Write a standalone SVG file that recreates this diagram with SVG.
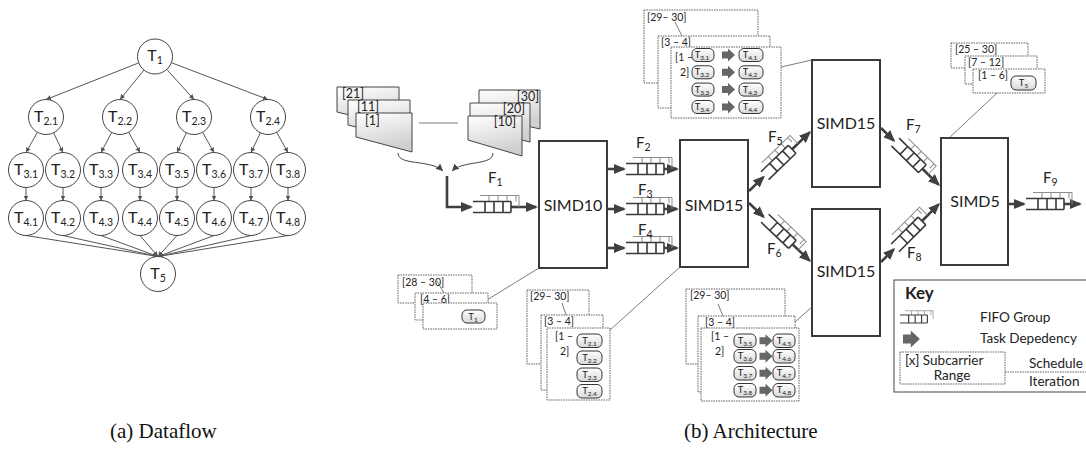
<svg xmlns="http://www.w3.org/2000/svg" xmlns:xlink="http://www.w3.org/1999/xlink" width="1086" height="452" viewBox="0 0 1086 452">
<style>
.c{fill:#fff;stroke:#444;stroke-width:1}
.t{font-family:Lato,"Open Sans","Noto Sans",sans-serif;fill:#222}
.tl{font-size:16px;text-anchor:middle}
.sb{font-size:10.5px}
.te{stroke:#555;stroke-width:1;fill:none;marker-end:url(#ah)}
.simd{fill:#fff;stroke:#3a3a3a;stroke-width:2}
.st{font-size:16px;text-anchor:middle}
.arr{stroke:#404040;stroke-width:2.6;fill:none;marker-end:url(#bh)}
.thin{stroke:#444;stroke-width:1;fill:none;marker-end:url(#mh)}
.dot{fill:#fff;stroke:#555;stroke-width:0.9;stroke-dasharray:1.6 0.9}
.sl{font-size:10.5px}
.tb{fill:url(#gb);stroke:#333;stroke-width:1}
.tbt{font-size:9.5px;text-anchor:middle}
.tbs{font-size:6.5px}
.lead{stroke:#444;stroke-width:0.7;fill:none}
.card{fill:url(#gc);stroke:#444;stroke-width:1}
.cl{font-size:12.5px}
.fl{font-size:15px}
.cap{font-family:"Liberation Serif","Times New Roman",serif;font-size:21px;fill:#111}
.kt{font-size:13.5px}
</style>
<defs>
<linearGradient id="gb" x1="0" y1="0" x2="0" y2="1"><stop offset="0" stop-color="#ffffff"/><stop offset="1" stop-color="#d9d9d9"/></linearGradient>
<linearGradient id="gc" x1="0" y1="0" x2="0.3" y2="1"><stop offset="0" stop-color="#ffffff"/><stop offset="1" stop-color="#cfcfcf"/></linearGradient>
<marker id="ah" viewBox="0 0 6 6" refX="6" refY="3" markerWidth="5" markerHeight="5" orient="auto" markerUnits="userSpaceOnUse"><path d="M0,0 L6,3 L0,6 z" fill="#555"/></marker>
<marker id="mh" viewBox="0 0 8 8" refX="8" refY="4" markerWidth="7" markerHeight="7" orient="auto" markerUnits="userSpaceOnUse"><path d="M0,0 L8,4 L0,8 z" fill="#444"/></marker>
<marker id="bh" viewBox="0 0 12 10" refX="10" refY="5" markerWidth="12" markerHeight="10" orient="auto" markerUnits="userSpaceOnUse"><path d="M0,0 L12,5 L0,10 z" fill="#404040"/></marker>
<g id="fifo">
<path d="M7,-11.5 H46 V0 M16,-11.5 V-5.5 M25,-11.5 V-5.5 M34,-11.5 V-5.5 M43,-11.5 V-5.5" stroke="#8c8c8c" stroke-width="1" fill="none"/>
<path d="M0,-5.5 H38 M0,5.5 H38 M12,-5.5 V5.5 M21,-5.5 V5.5 M30,-5.5 V5.5 M38,-5.5 V5.5" stroke="#3a3a3a" stroke-width="1.6" fill="none"/>
</g>
<path id="ba" d="M0,-3.5 H6 V-6.5 L13,0 L6,6.5 V3.5 H0 Z" fill="#666"/>
</defs>

<!-- (a) Dataflow tree -->
<g id="tree-edges">
<path class="te" d="M138.7,62.9 L46,99.5"/>
<path class="te" d="M143.9,70.1 L120,99.5"/>
<path class="te" d="M166.8,69.5 L194,99.5"/>
<path class="te" d="M171.4,62.7 L268,99.5"/>
<path class="te" d="M37.4,132.3 L26,152.5"/>
<path class="te" d="M53.6,132.8 L63,152.5"/>
<path class="te" d="M111.7,132.4 L101,152.5"/>
<path class="te" d="M128.6,132.3 L140,152.5"/>
<path class="te" d="M186.4,132.8 L177,152.5"/>
<path class="te" d="M202.6,132.3 L214,152.5"/>
<path class="te" d="M260.4,132.8 L251,152.5"/>
<path class="te" d="M276.6,132.3 L288,152.5"/>
<path class="te" d="M26,187.5 V200.5"/>
<path class="te" d="M63,187.5 V200.5"/>
<path class="te" d="M101,187.5 V200.5"/>
<path class="te" d="M140,187.5 V200.5"/>
<path class="te" d="M177,187.5 V200.5"/>
<path class="te" d="M214,187.5 V200.5"/>
<path class="te" d="M251,187.5 V200.5"/>
<path class="te" d="M288,187.5 V200.5"/>
<path class="te" d="M26,235.5 L158,256.5"/>
<path class="te" d="M63,235.5 L158,256.5"/>
<path class="te" d="M101,235.5 L158,256.5"/>
<path class="te" d="M140,235.5 L158,256.5"/>
<path class="te" d="M177,235.5 L158,256.5"/>
<path class="te" d="M214,235.5 L158,256.5"/>
<path class="te" d="M251,235.5 L158,256.5"/>
<path class="te" d="M288,235.5 L158,256.5"/>
</g>
<g id="T1"><circle class="c" cx="155" cy="56.5" r="17.5"/><text class="t tl" x="155" y="61">T<tspan class="sb" dy="3">1</tspan></text></g>
<g id="T2.1"><circle class="c" cx="46" cy="117" r="17.5"/><text class="t tl" x="46" y="121.5">T<tspan class="sb" dy="3">2.1</tspan></text></g>
<g id="T2.2"><circle class="c" cx="120" cy="117" r="17.5"/><text class="t tl" x="120" y="121.5">T<tspan class="sb" dy="3">2.2</tspan></text></g>
<g id="T2.3"><circle class="c" cx="194" cy="117" r="17.5"/><text class="t tl" x="194" y="121.5">T<tspan class="sb" dy="3">2.3</tspan></text></g>
<g id="T2.4"><circle class="c" cx="268" cy="117" r="17.5"/><text class="t tl" x="268" y="121.5">T<tspan class="sb" dy="3">2.4</tspan></text></g>
<g id="T3.1"><circle class="c" cx="26" cy="170" r="17.5"/><text class="t tl" x="26" y="174.5">T<tspan class="sb" dy="3">3.1</tspan></text></g>
<g id="T3.2"><circle class="c" cx="63" cy="170" r="17.5"/><text class="t tl" x="63" y="174.5">T<tspan class="sb" dy="3">3.2</tspan></text></g>
<g id="T3.3"><circle class="c" cx="101" cy="170" r="17.5"/><text class="t tl" x="101" y="174.5">T<tspan class="sb" dy="3">3.3</tspan></text></g>
<g id="T3.4"><circle class="c" cx="140" cy="170" r="17.5"/><text class="t tl" x="140" y="174.5">T<tspan class="sb" dy="3">3.4</tspan></text></g>
<g id="T3.5"><circle class="c" cx="177" cy="170" r="17.5"/><text class="t tl" x="177" y="174.5">T<tspan class="sb" dy="3">3.5</tspan></text></g>
<g id="T3.6"><circle class="c" cx="214" cy="170" r="17.5"/><text class="t tl" x="214" y="174.5">T<tspan class="sb" dy="3">3.6</tspan></text></g>
<g id="T3.7"><circle class="c" cx="251" cy="170" r="17.5"/><text class="t tl" x="251" y="174.5">T<tspan class="sb" dy="3">3.7</tspan></text></g>
<g id="T3.8"><circle class="c" cx="288" cy="170" r="17.5"/><text class="t tl" x="288" y="174.5">T<tspan class="sb" dy="3">3.8</tspan></text></g>
<g id="T4.1"><circle class="c" cx="26" cy="218" r="17.5"/><text class="t tl" x="26" y="222.5">T<tspan class="sb" dy="3">4.1</tspan></text></g>
<g id="T4.2"><circle class="c" cx="63" cy="218" r="17.5"/><text class="t tl" x="63" y="222.5">T<tspan class="sb" dy="3">4.2</tspan></text></g>
<g id="T4.3"><circle class="c" cx="101" cy="218" r="17.5"/><text class="t tl" x="101" y="222.5">T<tspan class="sb" dy="3">4.3</tspan></text></g>
<g id="T4.4"><circle class="c" cx="140" cy="218" r="17.5"/><text class="t tl" x="140" y="222.5">T<tspan class="sb" dy="3">4.4</tspan></text></g>
<g id="T4.5"><circle class="c" cx="177" cy="218" r="17.5"/><text class="t tl" x="177" y="222.5">T<tspan class="sb" dy="3">4.5</tspan></text></g>
<g id="T4.6"><circle class="c" cx="214" cy="218" r="17.5"/><text class="t tl" x="214" y="222.5">T<tspan class="sb" dy="3">4.6</tspan></text></g>
<g id="T4.7"><circle class="c" cx="251" cy="218" r="17.5"/><text class="t tl" x="251" y="222.5">T<tspan class="sb" dy="3">4.7</tspan></text></g>
<g id="T4.8"><circle class="c" cx="288" cy="218" r="17.5"/><text class="t tl" x="288" y="222.5">T<tspan class="sb" dy="3">4.8</tspan></text></g>
<g id="T5"><circle class="c" cx="158" cy="274" r="17.5"/><text class="t tl" x="158" y="278.5">T<tspan class="sb" dy="3">5</tspan></text></g>

<!-- (b) Architecture: input cards -->
<g id="inputs-left">
<path class="card" d="M337,87 h62 v40 L337,112 z"/>
<text class="t cl" x="342" y="98">[21]</text>
<path class="card" d="M348,100 h62 v40 L348,125 z"/>
<text class="t cl" x="357" y="111">[11]</text>
<path class="card" d="M356,113 h56 v39 L356,137 z"/>
<text class="t cl" x="365" y="125">[1]</text>
</g>
<g id="inputs-right">
<path class="card" d="M479,90 h61 v39 L479,115 z"/>
<text class="t cl" x="539" y="101" text-anchor="end">[30]</text>
<path class="card" d="M470,103 h60 v39 L470,128 z"/>
<text class="t cl" x="525" y="113" text-anchor="end">[20]</text>
<path class="card" d="M468,116 h54 v40 L468,140 z"/>
<text class="t cl" x="516" y="126" text-anchor="end">[10]</text>
</g>

<!-- SIMD nodes -->
<g id="SIMD10"><rect class="simd" x="539" y="141" width="68" height="127"/><text class="t st" x="573" y="211">SIMD10</text></g>
<g id="SIMD15-a"><rect class="simd" x="680" y="140" width="68" height="127"/><text class="t st" x="714" y="211">SIMD15</text></g>
<g id="SIMD15-b"><rect class="simd" x="812" y="60" width="68" height="127"/><text class="t st" x="846" y="129">SIMD15</text></g>
<g id="SIMD15-c"><rect class="simd" x="812" y="209" width="68" height="127"/><text class="t st" x="846" y="277">SIMD15</text></g>
<g id="SIMD5"><rect class="simd" x="941" y="138" width="67" height="127"/><text class="t st" x="975" y="207">SIMD5</text></g>

<!-- connectors -->
<g id="connectors">
<path class="lead" d="M419,123 H458"/>
<path class="thin" d="M398,153 C398,166 430,159 443,171"/>
<path class="thin" d="M493,153 C493,166 463,160 452,171"/>
<path class="arr" d="M447,176 V207 H471"/>
<path class="arr" d="M511,207 H536"/>
<path class="arr" d="M608,169 H624"/>
<path class="arr" d="M664,169 H677"/>
<path class="arr" d="M608,209 H624"/>
<path class="arr" d="M664,209 H677"/>
<path class="arr" d="M608,248 H624"/>
<path class="arr" d="M664,248 H677"/>
<path class="arr" d="M749,191 L763.4,177.1"/>
<path class="arr" d="M792.1,149.3 L809.6,132.4"/>
<path class="arr" d="M749,203 L763.5,216.8"/>
<path class="arr" d="M792.5,244.4 L809.6,260.6"/>
<path class="arr" d="M881,128 L893.8,140.6"/>
<path class="arr" d="M922.4,168.7 L938.6,184.6"/>
<path class="arr" d="M881,262 L893.7,249.3"/>
<path class="arr" d="M922,221 L938.6,204.4"/>
<path class="arr" d="M1009,204 H1024"/>
<path class="arr" d="M1064,204 H1080"/>
<path class="lead" d="M781,67 L812,60"/>
<path class="lead" d="M482,303 L539,268"/>
<path class="lead" d="M610,330 L680,267"/>
<path class="lead" d="M788,328 L812,307"/>
<path class="lead" d="M997,93 L949,138"/>
</g>

<!-- FIFO groups -->
<g id="F1"><use xlink:href="#fifo" href="#fifo" transform="translate(473,207)"/><text class="t fl" x="488" y="183">F<tspan class="sb" dy="3">1</tspan></text></g>
<g id="F2"><use xlink:href="#fifo" href="#fifo" transform="translate(626,169)"/><text class="t fl" x="636" y="148">F<tspan class="sb" dy="3">2</tspan></text></g>
<g id="F3"><use xlink:href="#fifo" href="#fifo" transform="translate(626,209)"/><text class="t fl" x="638" y="195">F<tspan class="sb" dy="3">3</tspan></text></g>
<g id="F4"><use xlink:href="#fifo" href="#fifo" transform="translate(626,248)"/><text class="t fl" x="638" y="235">F<tspan class="sb" dy="3">4</tspan></text></g>
<g id="F5"><use xlink:href="#fifo" href="#fifo" transform="translate(764.8,175.7) rotate(-44)"/><text class="t fl" x="768" y="142">F<tspan class="sb" dy="3">5</tspan></text></g>
<g id="F6"><use xlink:href="#fifo" href="#fifo" transform="translate(764.9,218.2) rotate(43.6)"/><text class="t fl" x="767" y="254">F<tspan class="sb" dy="3">6</tspan></text></g>
<g id="F7"><use xlink:href="#fifo" href="#fifo" transform="translate(895.3,142) rotate(44.5)"/><text class="t fl" x="906" y="130">F<tspan class="sb" dy="3">7</tspan></text></g>
<g id="F8"><use xlink:href="#fifo" href="#fifo" transform="translate(895.1,247.9) rotate(-45)"/><text class="t fl" x="907" y="258">F<tspan class="sb" dy="3">8</tspan></text></g>
<g id="F9"><use xlink:href="#fifo" href="#fifo" transform="translate(1026,204)"/><text class="t fl" x="1043" y="183">F<tspan class="sb" dy="3">9</tspan></text></g>

<!-- schedule stacks -->
<g id="stack-T3T4">
<rect class="dot" x="644" y="10" width="114" height="73"/>
<text class="t sl" x="647" y="21">[29– 30]</text>
<path class="lead" d="M675,22 L682,36"/>
<rect class="dot" x="658" y="36" width="112" height="72"/>
<text class="t sl" x="661" y="46">[3 – 4]</text>
<rect class="dot" x="671" y="47" width="110" height="71"/>
<text class="t sl" x="675" y="61">[1 –</text>
<text class="t sl" x="680" y="76">2]</text>
<rect class="tb" x="692" y="48.5" width="22" height="13" rx="5"/><text class="t tbt" x="702" y="58">T<tspan class="tbs" dy="2">3.1</tspan></text>
<rect class="tb" x="692" y="65.8" width="22" height="13" rx="5"/><text class="t tbt" x="702" y="75.3">T<tspan class="tbs" dy="2">3.2</tspan></text>
<rect class="tb" x="692" y="83.1" width="22" height="13" rx="5"/><text class="t tbt" x="702" y="92.6">T<tspan class="tbs" dy="2">3.3</tspan></text>
<rect class="tb" x="692" y="100.5" width="22" height="13" rx="5"/><text class="t tbt" x="702" y="110">T<tspan class="tbs" dy="2">3.4</tspan></text>
<use xlink:href="#ba" href="#ba" transform="translate(722,55)"/>
<use xlink:href="#ba" href="#ba" transform="translate(722,72.3)"/>
<use xlink:href="#ba" href="#ba" transform="translate(722,89.6)"/>
<use xlink:href="#ba" href="#ba" transform="translate(722,107)"/>
<rect class="tb" x="739" y="48.5" width="24" height="13" rx="5"/><text class="t tbt" x="750" y="58">T<tspan class="tbs" dy="2">4.1</tspan></text>
<rect class="tb" x="739" y="65.8" width="24" height="13" rx="5"/><text class="t tbt" x="750" y="75.3">T<tspan class="tbs" dy="2">4.2</tspan></text>
<rect class="tb" x="739" y="83.1" width="24" height="13" rx="5"/><text class="t tbt" x="750" y="92.6">T<tspan class="tbs" dy="2">4.3</tspan></text>
<rect class="tb" x="739" y="100.5" width="24" height="13" rx="5"/><text class="t tbt" x="750" y="110">T<tspan class="tbs" dy="2">4.4</tspan></text>
</g>

<g id="stack-T1">
<rect class="dot" x="398" y="275" width="74" height="28"/>
<text class="t sl" x="402" y="286">[28 – 30]</text>
<path class="lead" d="M437,281 L444,293"/>
<rect class="dot" x="415" y="293" width="73" height="27"/>
<text class="t sl" x="420" y="302.5">[4 – 6]</text>
<rect class="dot" x="423" y="303" width="74" height="26"/>
<rect class="tb" x="462" y="310" width="23" height="13" rx="5"/><text class="t tbt" x="473" y="319.5">T<tspan class="tbs" dy="2">1</tspan></text>
</g>

<g id="stack-T2">
<rect class="dot" x="527" y="290" width="62" height="74"/>
<text class="t sl" x="530" y="300">[29– 30]</text>
<path class="lead" d="M562,303 L566,315"/>
<rect class="dot" x="541" y="315" width="62" height="75"/>
<text class="t sl" x="544" y="325">[3 – 4]</text>
<rect class="dot" x="547" y="328" width="63" height="72"/>
<text class="t sl" x="555" y="340">[1 –</text>
<text class="t sl" x="560" y="355">2]</text>
<rect class="tb" x="577" y="334" width="25" height="13.5" rx="5"/><text class="t tbt" x="589.5" y="343.5">T<tspan class="tbs" dy="2">2.1</tspan></text>
<rect class="tb" x="577" y="351" width="25" height="13.5" rx="5"/><text class="t tbt" x="589.5" y="360.5">T<tspan class="tbs" dy="2">2.2</tspan></text>
<rect class="tb" x="577" y="368" width="25" height="13.5" rx="5"/><text class="t tbt" x="589.5" y="377.5">T<tspan class="tbs" dy="2">2.3</tspan></text>
<rect class="tb" x="577" y="384.5" width="25" height="13.5" rx="5"/><text class="t tbt" x="589.5" y="394">T<tspan class="tbs" dy="2">2.4</tspan></text>
</g>

<g id="stack-T3T4-b">
<rect class="dot" x="686" y="289" width="99" height="75"/>
<text class="t sl" x="690" y="299">[29– 30]</text>
<path class="lead" d="M718,304 L723,316"/>
<rect class="dot" x="698" y="316" width="97" height="76"/>
<text class="t sl" x="705" y="326">[3 – 4]</text>
<rect class="dot" x="701" y="328" width="98" height="73"/>
<text class="t sl" x="711" y="340">[1 –</text>
<text class="t sl" x="715" y="355">2]</text>
<rect class="tb" x="734" y="334" width="22" height="13.5" rx="5"/><text class="t tbt" x="745" y="343.5">T<tspan class="tbs" dy="2">3.5</tspan></text>
<rect class="tb" x="734" y="349.5" width="22" height="13.5" rx="5"/><text class="t tbt" x="745" y="359">T<tspan class="tbs" dy="2">3.6</tspan></text>
<rect class="tb" x="734" y="366.5" width="22" height="13.5" rx="5"/><text class="t tbt" x="745" y="376">T<tspan class="tbs" dy="2">3.7</tspan></text>
<rect class="tb" x="734" y="383.5" width="22" height="13.5" rx="5"/><text class="t tbt" x="745" y="393">T<tspan class="tbs" dy="2">3.8</tspan></text>
<use xlink:href="#ba" href="#ba" transform="translate(759.5,340.8)"/>
<use xlink:href="#ba" href="#ba" transform="translate(759.5,356.3)"/>
<use xlink:href="#ba" href="#ba" transform="translate(759.5,373.3)"/>
<use xlink:href="#ba" href="#ba" transform="translate(759.5,390.3)"/>
<rect class="tb" x="773" y="334" width="22" height="13.5" rx="5"/><text class="t tbt" x="784" y="343.5">T<tspan class="tbs" dy="2">4.5</tspan></text>
<rect class="tb" x="773" y="349.5" width="22" height="13.5" rx="5"/><text class="t tbt" x="784" y="359">T<tspan class="tbs" dy="2">4.6</tspan></text>
<rect class="tb" x="773" y="366.5" width="22" height="13.5" rx="5"/><text class="t tbt" x="784" y="376">T<tspan class="tbs" dy="2">4.7</tspan></text>
<rect class="tb" x="773" y="383.5" width="22" height="13.5" rx="5"/><text class="t tbt" x="784" y="393">T<tspan class="tbs" dy="2">4.8</tspan></text>
</g>

<g id="stack-T5">
<rect class="dot" x="951" y="43" width="77" height="25"/>
<text class="t sl" x="955" y="53">[25 – 30]</text>
<rect class="dot" x="965" y="56" width="72" height="28"/>
<text class="t sl" x="968" y="66">[7 – 12]</text>
<rect class="dot" x="973" y="69" width="72" height="24"/>
<text class="t sl" x="978" y="79">[1 – 6]</text>
<rect class="tb" x="1011" y="76" width="25" height="14" rx="5"/><text class="t tbt" x="1023.5" y="86">T<tspan class="tbs" dy="2">5</tspan></text>
</g>

<!-- Key -->
<g id="key">
<rect x="894" y="280" width="200" height="112" fill="#fff" stroke="#444" stroke-width="1"/>
<text class="t" x="905" y="299" font-size="17" font-weight="bold">Key</text>
<use xlink:href="#fifo" href="#fifo" transform="translate(900,319) scale(0.72)"/>
<text class="t kt" x="980" y="322">FIFO Group</text>
<use xlink:href="#ba" href="#ba" transform="translate(903,339) scale(1.3)"/>
<text class="t kt" x="980" y="343">Task Depedency</text>
<rect class="dot" x="900" y="352" width="105" height="32"/>
<text class="t kt" x="905" y="364.5">[x]  Subcarrier</text>
<text class="t kt" x="952" y="380" text-anchor="middle">Range</text>
<path d="M1005,372 H1086" stroke="#555" stroke-width="0.9" stroke-dasharray="1.6 0.9"/>
<text class="t kt" x="1029" y="368">Schedule</text>
<text class="t kt" x="1029" y="386">Iteration</text>
</g>

<!-- captions -->
<text class="cap" x="110" y="438">(a) Dataflow</text>
<text class="cap" x="684" y="438">(b) Architecture</text>
</svg>
